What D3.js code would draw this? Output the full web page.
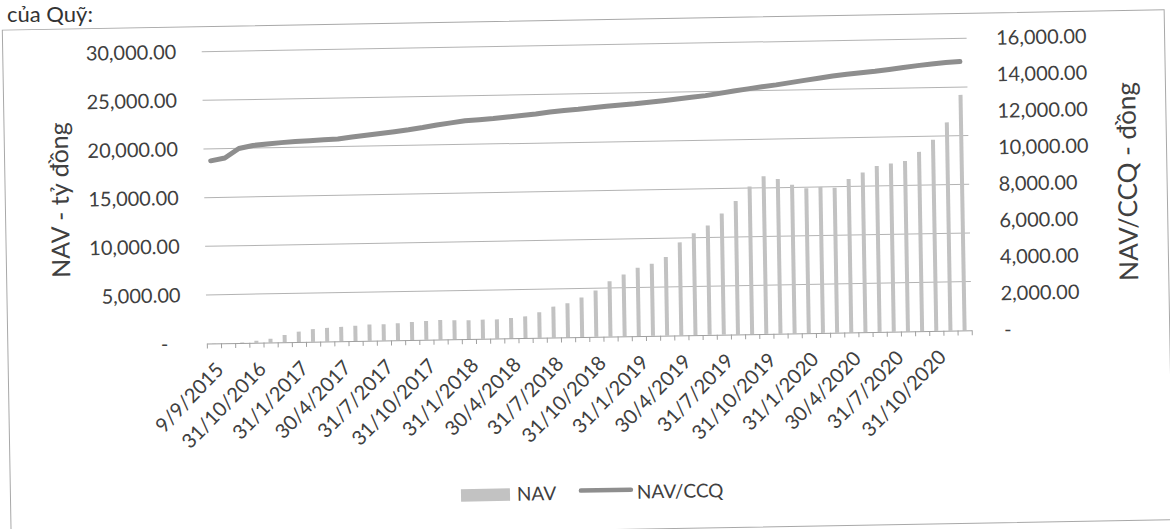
<!DOCTYPE html>
<html>
<head>
<meta charset="utf-8">
<script src="https://cdn.jsdelivr.net/npm/d3@7"></script>
<style>
  html, body { margin: 0; padding: 0; background: #fff; }
  svg { display: block; }
  text { font-family: Lato, "Open Sans", sans-serif; fill: #404040; }
</style>
</head>
<body>
<svg id="chart" width="1170" height="529"></svg>
<script>
// ---------- data ----------
const dates = [
  "9/9/2015", "31/8/2016", "30/9/2016", "31/10/2016", "30/11/2016", "31/12/2016",
  "31/1/2017", "28/2/2017", "31/3/2017", "30/4/2017", "31/5/2017", "30/6/2017",
  "31/7/2017", "31/8/2017", "30/9/2017", "31/10/2017", "30/11/2017", "31/12/2017",
  "31/1/2018", "28/2/2018", "31/3/2018", "30/4/2018", "31/5/2018", "30/6/2018",
  "31/7/2018", "31/8/2018", "30/9/2018", "31/10/2018", "30/11/2018", "31/12/2018",
  "31/1/2019", "28/2/2019", "31/3/2019", "30/4/2019", "31/5/2019", "30/6/2019",
  "31/7/2019", "31/8/2019", "30/9/2019", "31/10/2019", "30/11/2019", "31/12/2019",
  "31/1/2020", "29/2/2020", "31/3/2020", "30/4/2020", "31/5/2020", "30/6/2020",
  "31/7/2020", "31/8/2020", "30/9/2020", "31/10/2020", "30/11/2020", "31/12/2020"
];

// NAV - tỷ đồng (bars, left axis)
const nav = [
  20, 30, 60, 200, 380, 750, 1070, 1300, 1400, 1480,
  1560, 1670, 1670, 1750, 1860, 1930, 2000, 1950, 1930, 1970,
  1970, 2080, 2230, 2630, 3180, 3500, 4060, 4760, 5680, 6350,
  7020, 7410, 8080, 9550, 10470, 11240, 12440, 13700, 15170, 16190,
  15880, 15270, 14890, 15000, 14880, 15750, 16400, 17050, 17280, 17500,
  18420, 19640, 21400, 24200
];

// NAV/CCQ - đồng (line, right axis)
const navPerUnit = [
  10010, 10150, 10660, 10810, 10880, 10940, 10990, 11020, 11060, 11090,
  11180, 11260, 11340, 11430, 11520, 11630, 11760, 11860, 11960, 12010,
  12060, 12130, 12200, 12270, 12360, 12430, 12480, 12550, 12620, 12680,
  12730, 12800, 12870, 12950, 13030, 13110, 13220, 13340, 13440, 13540,
  13630, 13740, 13850, 13950, 14060, 14150, 14220, 14280, 14370, 14460,
  14550, 14630, 14690, 14730
];

const navTicks = [0, 5000, 10000, 15000, 20000, 25000, 30000];
const unitTicks = [0, 2000, 4000, 6000, 8000, 10000, 12000, 14000, 16000];
const labelEvery = 3; // Excel shows every 3rd category label
const seriesNames = ["NAV", "NAV/CCQ"];

// ---------- layout ----------
const plot = { left: 205.5, right: 970.5, top: 45, bottom: 337 };
const BAR_COLOR = "#c2c2c2";
const LINE_COLOR = "#8e8e8e";
const GRID_COLOR = "#b3b3b3";

const svg = d3.select("#chart");

// page text above the chart frame (not part of the tilted scan group)
svg.append("text")
  .attr("x", 7).attr("y", 22)
  .attr("font-family", "'Liberation Sans', Arial, sans-serif")
  .attr("font-size", 22)
  .style("fill", "#333")
  .text("của Quỹ:");

// the scan is tilted about one degree, so the whole chart is drawn rotated
const root = svg.append("g").attr("transform", "rotate(-1, 585, 265)");

root.append("rect")
  .attr("x", 6.5).attr("y", 20)
  .attr("width", 1162).attr("height", 510)
  .attr("fill", "none")
  .attr("stroke", "#a8a8a8")
  .attr("stroke-width", 1);

const x = d3.scaleBand().domain(dates).range([plot.left, plot.right]).paddingInner(0);
const xEdge = d3.scaleLinear().domain([0, dates.length]).range([plot.left, plot.right]);
const yL = d3.scaleLinear().domain([0, 30000]).range([plot.bottom, plot.top]);
const yR = d3.scaleLinear().domain([0, 16000]).range([plot.bottom, plot.top]);

const fmt = d3.format(",.2f");
const tickText = (d) => (d === 0 ? "-" : fmt(d));

// gridlines (left axis)
root.append("g")
  .selectAll("line")
  .data(navTicks.filter((d) => d > 0))
  .join("line")
  .attr("x1", plot.left).attr("x2", plot.right)
  .attr("y1", (d) => yL(d)).attr("y2", (d) => yL(d))
  .attr("stroke", GRID_COLOR)
  .attr("stroke-width", 1);

// bars
const barW = 4;
root.append("g")
  .selectAll("rect")
  .data(nav)
  .join("rect")
  .attr("x", (d, i) => x(dates[i]) + x.bandwidth() / 2 - barW / 2)
  .attr("y", (d) => yL(d))
  .attr("width", barW)
  .attr("height", (d) => yL(0) - yL(d))
  .attr("fill", BAR_COLOR);

// category axis: line + ticks between categories
const xTicks = root.append("g")
  .attr("transform", `translate(0,${plot.bottom})`)
  .call(d3.axisBottom(xEdge).tickValues(d3.range(dates.length + 1)).tickFormat("").tickSize(5).tickSizeOuter(0));
xTicks.select(".domain").attr("stroke", "#a0a0a0");
xTicks.selectAll(".tick line").attr("stroke", "#a0a0a0");

// category labels, rotated
const xLabels = root.append("g")
  .attr("transform", `translate(0,${plot.bottom})`)
  .call(d3.axisBottom(x).tickValues(dates.filter((d, i) => i % labelEvery === 0)).tickSize(0));
xLabels.select(".domain").remove();
xLabels.selectAll(".tick text")
  .attr("x", null).attr("y", null).attr("dy", null)
  .attr("text-anchor", "end")
  .attr("transform", "translate(10.5,27.5) rotate(-45)")
  .attr("font-family", "Lato, sans-serif")
  .attr("font-size", 20)
  .style("fill", "#404040");

// left value axis
const leftAxis = root.append("g")
  .attr("transform", `translate(${plot.left},0)`)
  .call(d3.axisLeft(yL).tickValues(navTicks).tickFormat(tickText).tickSize(0).tickPadding(25.5));
leftAxis.select(".domain").remove();
leftAxis.selectAll(".tick text")
  .attr("font-family", "Lato, sans-serif")
  .attr("font-size", 20)
  .attr("dx", (d) => (d === 0 ? -13 : 0))
  .style("fill", "#404040");

// right value axis
const rightAxis = root.append("g")
  .attr("transform", `translate(${plot.right},0)`)
  .call(d3.axisRight(yR).tickValues(unitTicks).tickFormat(tickText).tickSize(0).tickPadding(29.5));
rightAxis.select(".domain").remove();
rightAxis.selectAll(".tick text")
  .attr("font-family", "Lato, sans-serif")
  .attr("font-size", 20)
  .attr("dx", (d) => (d === 0 ? 3 : 0))
  .style("fill", "#404040");

// NAV/CCQ line
const line = d3.line()
  .x((d, i) => x(dates[i]) + x.bandwidth() / 2)
  .y((d) => yR(d));

root.append("path")
  .datum(navPerUnit)
  .attr("d", line)
  .attr("fill", "none")
  .attr("stroke", LINE_COLOR)
  .attr("stroke-width", 5)
  .attr("stroke-linejoin", "round")
  .attr("stroke-linecap", "round");

// axis titles
const midY = (plot.top + plot.bottom) / 2;
root.append("text")
  .attr("transform", `translate(70,${midY}) rotate(-90)`)
  .attr("text-anchor", "middle")
  .attr("font-size", 25)
  .text("NAV - tỷ đồng");

root.append("text")
  .attr("transform", `translate(1138,${midY}) rotate(-90)`)
  .attr("text-anchor", "middle")
  .attr("font-size", 26)
  .text("NAV/CCQ - đồng");

// legend
const legend = root.append("g");
legend.append("rect")
  .attr("x", 457).attr("y", 487)
  .attr("width", 49).attr("height", 12.5)
  .attr("fill", BAR_COLOR);
legend.append("text")
  .attr("x", 513).attr("y", 499.5)
  .attr("font-size", 19)
  .text(seriesNames[0]);
legend.append("line")
  .attr("x1", 577).attr("x2", 627)
  .attr("y1", 490.5).attr("y2", 490.5)
  .attr("stroke", LINE_COLOR)
  .attr("stroke-width", 4.5)
  .attr("stroke-linecap", "round");
legend.append("text")
  .attr("x", 633).attr("y", 499.5)
  .attr("font-size", 19)
  .text(seriesNames[1]);
</script>
</body>
</html>
